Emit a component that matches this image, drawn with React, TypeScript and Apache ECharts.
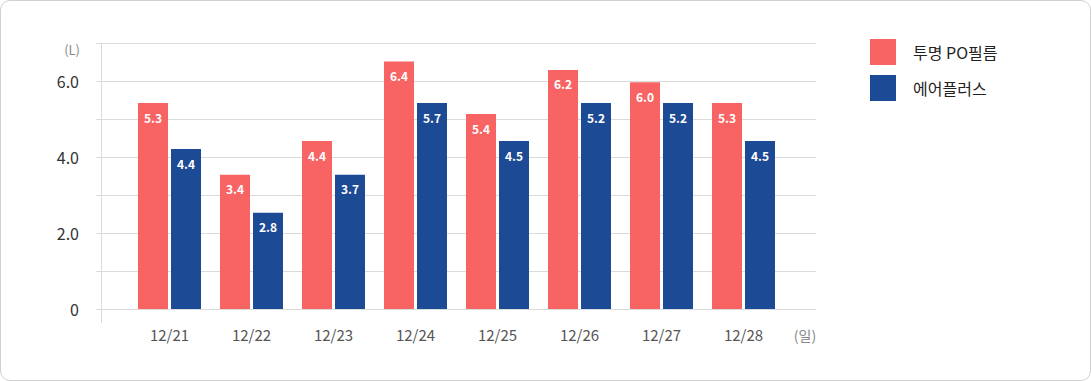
import React, { useEffect, useRef } from "react";
import * as echarts from "echarts";

const categories = ["12/21", "12/22", "12/23", "12/24", "12/25", "12/26", "12/27", "12/28"];
const seriesNames = ["투명 PO필름", "에어플러스"];
// bar heights as drawn in the picture
const poHeights = [5.42, 3.53, 4.42, 6.51, 5.13, 6.29, 5.97, 5.42];
const airHeights = [4.21, 2.53, 3.53, 5.42, 4.42, 5.42, 5.42, 4.42];
// values printed on the bars
const poLabels = ["5.3", "3.4", "4.4", "6.4", "5.4", "6.2", "6.0", "5.3"];
const airLabels = ["4.4", "2.8", "3.7", "5.7", "4.5", "5.2", "5.2", "4.5"];
const yUnit = "(L)";
const xUnit = "(일)";

const FONT = "'Noto Sans CJK KR', 'Noto Sans', sans-serif";
const RED = "#f86464";
const BLUE = "#1d4a94";
const GRID = "#dadada";

export default function App() {
  const ref = useRef<HTMLDivElement>(null);
  useEffect(() => {
    if (!ref.current) return;
    const chart = echarts.init(ref.current, undefined, { renderer: "svg" });
    chart.setOption({
      animation: false,
      textStyle: { fontFamily: FONT },
      grid: [
        { left: 101, top: 43, width: 715, height: 266 },
        { left: 128.5, top: 43, width: 656, height: 266 },
      ],
      xAxis: [
        { type: "value", gridIndex: 0, show: false, min: 0, max: 1 },
        {
          type: "category",
          gridIndex: 1,
          data: categories,
          axisLine: { show: false },
          axisTick: { show: false },
          axisLabel: { color: "#555", fontSize: 15, margin: 18, fontFamily: FONT },
        },
      ],
      yAxis: [
        {
          type: "value",
          gridIndex: 0,
          min: 0,
          max: 7,
          interval: 1,
          axisLine: { show: false },
          axisTick: { show: true, length: 5, lineStyle: { color: GRID } },
          splitLine: { show: true, lineStyle: { color: GRID } },
          axisLabel: {
            color: "#333",
            fontSize: 16,
            margin: 22,
            fontFamily: FONT,
            formatter: (v: number) => (v % 2 === 0 && v < 7 ? (v === 0 ? "0" : v.toFixed(1)) : ""),
          },
        },
        { type: "value", gridIndex: 1, min: 0, max: 7, show: false },
      ],
      legend: {
        orient: "vertical",
        left: 870,
        top: 39,
        padding: 0,
        itemWidth: 26,
        itemHeight: 26,
        itemGap: 10,
        icon: "rect",
        data: seriesNames,
        textStyle: { fontSize: 16, color: "#222", fontFamily: FONT, padding: [0, 0, 0, 12] },
      },
      graphic: [
        {
          type: "line",
          shape: { x1: 101.5, y1: 43, x2: 101.5, y2: 323 },
          style: { stroke: GRID, lineWidth: 1 },
          silent: true,
        },
        {
          type: "text",
          x: 80,
          y: 49,
          style: {
            text: yUnit,
            fill: "#888",
            font: `13px ${FONT}`,
            textAlign: "right",
            textVerticalAlign: "middle",
          },
        },
        {
          type: "text",
          x: 805,
          y: 335,
          style: {
            text: xUnit,
            fill: "#888",
            font: `14px ${FONT}`,
            textAlign: "center",
            textVerticalAlign: "middle",
          },
        },
      ],
      series: [
        {
          name: seriesNames[0],
          type: "bar",
          xAxisIndex: 1,
          yAxisIndex: 1,
          data: poHeights,
          barWidth: 30,
          barGap: "10%",
          itemStyle: { color: RED },
          label: {
            show: true,
            position: "insideTop",
            distance: 8,
            color: "#fff",
            fontWeight: "bold",
            fontSize: 12,
            fontFamily: FONT,
            formatter: (p: any) => poLabels[p.dataIndex],
          },
        },
        {
          name: seriesNames[1],
          type: "bar",
          xAxisIndex: 1,
          yAxisIndex: 1,
          data: airHeights,
          barWidth: 30,
          barGap: "10%",
          itemStyle: { color: BLUE },
          label: {
            show: true,
            position: "insideTop",
            distance: 8,
            color: "#fff",
            fontWeight: "bold",
            fontSize: 12,
            fontFamily: FONT,
            formatter: (p: any) => airLabels[p.dataIndex],
          },
        },
      ],
    });
    return () => chart.dispose();
  }, []);

  return (
    <div
      style={{
        position: "fixed",
        left: 0,
        top: 0,
        width: 1091,
        height: 381,
        boxSizing: "border-box",
        border: "1px solid #d0d0d0",
        borderRadius: 10,
        background: "#fff",
        overflow: "hidden",
      }}
    >
      <div ref={ref} style={{ position: "absolute", left: -1, top: -1, width: 1091, height: 381 }} />
    </div>
  );
}
